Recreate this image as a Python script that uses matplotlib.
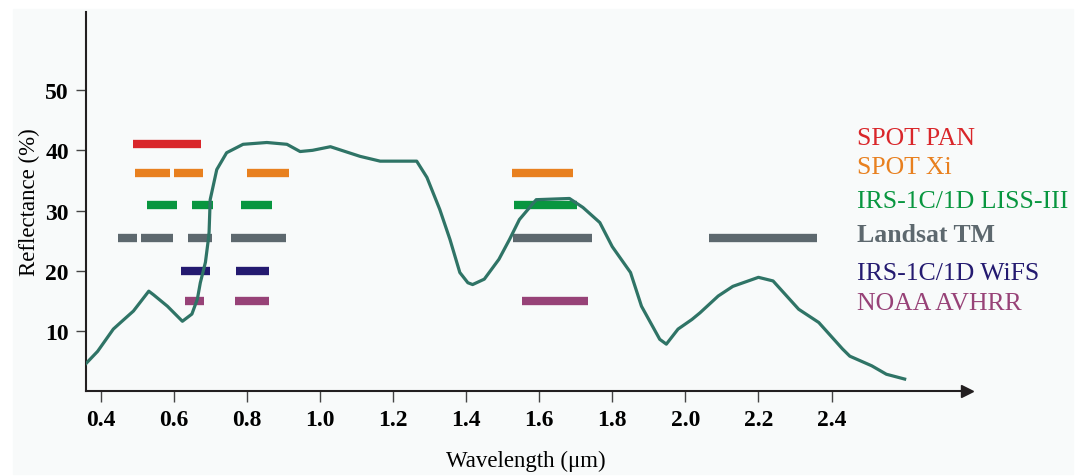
import matplotlib.pyplot as plt
from matplotlib.patches import Rectangle

plt.rcParams['font.family'] = ['Liberation Serif', 'DejaVu Serif']

# vegetation reflectance curve (wavelength um, reflectance %)
wl = [0.359, 0.392, 0.435, 0.455, 0.49, 0.532, 0.545, 0.583, 0.624, 0.65, 0.665, 0.673,
      0.687, 0.695, 0.697, 0.70, 0.718, 0.745, 0.79, 0.855, 0.91, 0.946, 0.98,
      1.029, 1.11, 1.165, 1.265, 1.293, 1.328, 1.356, 1.383, 1.405, 1.418, 1.45, 1.49,
      1.519, 1.546, 1.592, 1.683, 1.72, 1.766, 1.80, 1.85, 1.88, 1.93, 1.948,
      1.98, 2.018, 2.04, 2.09, 2.13, 2.2, 2.24, 2.31, 2.365, 2.43, 2.45, 2.51,
      2.55, 2.6]
refl = [4.5, 6.6, 10.3, 11.4, 13.3, 16.6, 16.0, 14.1, 11.6, 12.8, 15.3, 18.0,
        21.4, 25.2, 26.4, 31.8, 36.8, 39.6, 41.0, 41.3, 41.0, 39.8, 40.0,
        40.6, 39.0, 38.2, 38.2, 35.5, 30.2, 25.2, 19.7, 18.0, 17.7, 18.6, 21.9,
        25.2, 28.5, 31.8, 32.0, 30.5, 28.0, 24.0, 19.7, 14.1, 8.6, 7.8,
        10.3, 11.9, 13.0, 15.8, 17.4, 18.9, 18.3, 13.6, 11.4, 7.0, 5.8, 4.2,
        2.8, 2.0]

# sensor bands: (start, end) wavelengths, drawn at a given reflectance level
sensors = ['SPOT PAN', 'SPOT Xi', 'IRS-1C/1D LISS-III', 'Landsat TM',
           'IRS-1C/1D WiFS', 'NOAA AVHRR']
levels = [41.1, 36.2, 30.9, 25.4, 19.9, 14.9]
label_y = [42.1, 37.3, 31.5, 26.0, 19.7, 14.6]
bands = [
    [(0.49, 0.675)],
    [(0.495, 0.59), (0.60, 0.68), (0.80, 0.915), (1.526, 1.692)],
    [(0.528, 0.61), (0.649, 0.709), (0.785, 0.87), (1.531, 1.703)],
    [(0.449, 0.501), (0.512, 0.597), (0.64, 0.706), (0.758, 0.908),
     (1.528, 1.744), (2.064, 2.359)],
    [(0.619, 0.70), (0.771, 0.862)],
    [(0.63, 0.684), (0.769, 0.862), (1.553, 1.733)],
]
colors = ['#d9262a', '#e8801f', '#08963f', '#5d686e', '#241a70', '#974277']
weights = ['normal', 'normal', 'normal', 'bold', 'normal', 'normal']

fig = plt.figure(figsize=(10.76, 4.77), dpi=100)
fig.patches.append(Rectangle((13 / 1076, 2 / 477), 1060 / 1076, 465 / 477,
                             transform=fig.transFigure, color='#f8fafa', zorder=-10))
ax = fig.add_axes([0.0795, 0.178, 0.819, 0.795])
ax.patch.set_alpha(0)

for name, lev, segs, c in zip(sensors, levels, bands, colors):
    for a, b in segs:
        ax.plot([a, b], [lev, lev], color=c, lw=6, solid_capstyle='butt', zorder=2)

ax.plot(wl, refl, color='#2f7466', lw=2.3, zorder=3)

for name, ly, c, w in zip(sensors, label_y, colors, weights):
    ax.text(2.471, ly, name, color=c, fontsize=18.5, fontweight=w,
            va='center', ha='left', clip_on=False)

ax.set_xlim(0.359, 2.77)
ax.set_ylim(0, 63)
ax.set_xticks([0.4, 0.6, 0.8, 1.0, 1.2, 1.4, 1.6, 1.8, 2.0, 2.2, 2.4])
ax.set_yticks([10, 20, 30, 40, 50])
ax.set_xticklabels(['%.1f' % t for t in ax.get_xticks()], fontweight='bold', fontsize=17)
ax.set_yticklabels(['%d' % t for t in ax.get_yticks()], fontweight='bold', fontsize=17)
ax.tick_params(axis='x', length=8, width=1, color='#444444', pad=5)
ax.tick_params(axis='y', length=7, width=1, color='#444444', pad=5)

for s in ['top', 'right']:
    ax.spines[s].set_visible(False)
for s in ['left', 'bottom']:
    ax.spines[s].set_linewidth(1.5)
    ax.spines[s].set_color('#231f20')
ax.plot(1, 0, '>', color='#231f20', ms=9, transform=ax.get_yaxis_transform(), clip_on=False)
ax.plot(0, 1, '^', color='#231f20', ms=9, transform=ax.get_xaxis_transform(), clip_on=False)

ax.set_xlabel('Wavelength (μm)', fontsize=16.5, labelpad=14)
ax.set_ylabel('Reflectance (%)', fontsize=16.5, labelpad=4)

fig.savefig('out.png', dpi=100)
